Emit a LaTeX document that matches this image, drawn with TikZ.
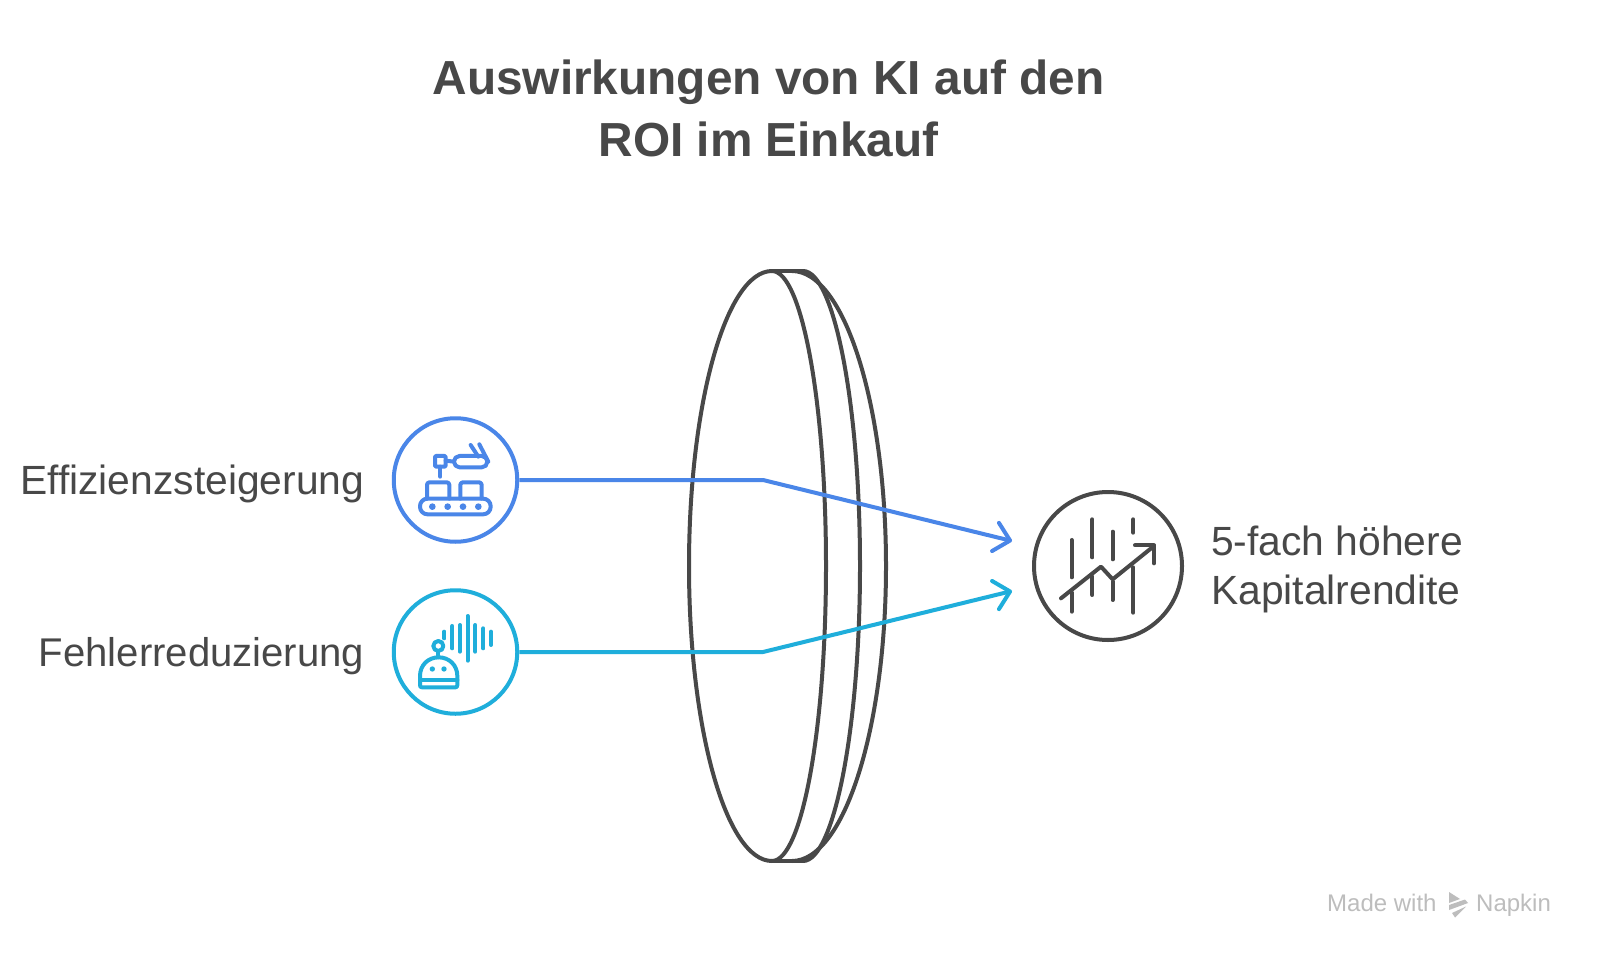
\documentclass[tikz,border=0pt]{standalone}
\usepackage{fontspec}
\setmainfont{Liberation Sans}
\usetikzlibrary{arrows.meta}
\definecolor{ink}{HTML}{484848}
\definecolor{blueA}{HTML}{4A86E8}
\definecolor{cyanA}{HTML}{1FAEDB}
\definecolor{wm}{HTML}{BDBDBD}
\tikzset{
  ring/.style={circle,draw=#1,line width=4pt,inner sep=0pt,fill=white},
  lensline/.style={draw=ink,line width=4pt,line join=round},
  flow/.style={draw=#1,line width=4pt,line join=round,-{Straight Barb[length=15pt,width=29pt,round]}},
  icon/.style={draw=#1,line width=4pt,line cap=round,line join=round},
  label/.style={text=ink,font=\fontsize{40.8}{47}\selectfont,inner sep=0pt},
  labelB/.style={text=ink,font=\fontsize{40.1}{47}\selectfont,inner sep=0pt},
  ttl/.style={text=ink,font=\fontsize{47.8}{62}\selectfont\bfseries,inner sep=0pt,align=center},
  wmtext/.style={text=wm,font=\fontsize{24}{26}\selectfont,inner sep=0pt}
}
\begin{document}
\begin{tikzpicture}[x=1pt,y=-1pt]
\useasboundingbox (0,0) rectangle (1600,960);
\fill[white] (0,0) rectangle (1600,960);
% title
\node[ttl,anchor=center] (title) at (768.5,108.5) {Auswirkungen von KI auf den\\ROI im Einkauf};
% lens
\draw[lensline] (772,271) -- (803,271);
\draw[lensline] (772,271) .. controls (726,271) and (689,404) .. (689,566) .. controls (689,728) and (726,861) .. (772,861);
\draw[lensline] (772,271) .. controls (802,271) and (826,404) .. (826,566) .. controls (826,728) and (802,861) .. (772,861);
\draw[lensline] (803,271) .. controls (834,271) and (860,404) .. (860,566) .. controls (860,728) and (834,861) .. (803,861);
\draw[lensline] (792,271) .. controls (844,271) and (886,404) .. (886,566) .. controls (886,728) and (844,861) .. (792,861);
\draw[lensline] (772,861) -- (803,861);
% nodes
\node[ring=blueA,minimum size=123.5pt] (c1) at (455.5,480) {};
\node[ring=cyanA,minimum size=123.5pt] (c2) at (455.5,652) {};
\node[ring=ink,minimum size=148pt] (c3) at (1108,566) {};
\coordinate (e1) at (763,480);
\coordinate (e2) at (763,652);
\coordinate (t1) at (1012,541);
\coordinate (t2) at (1012,591);
\draw[flow=blueA] (c1.east) -- (e1) -- (t1);
\draw[flow=cyanA] (c2.east) -- (e2) -- (t2);
% labels
\node[label,anchor=base east] (l1) at (364.5,494) {Effizienzsteigerung};
\node[labelB,anchor=base east] (l2) at (364.5,666) {Fehlerreduzierung};
\node[label,anchor=base west] (l3) at (1211,555) {5-fach höhere};
\node[label,anchor=base west] (l4) at (1211,604) {Kapitalrendite};
% icon 1
\begin{scope}[shift={(380,400)},x=0.3333pt,y=-0.3333pt]
\draw[icon=blueA,rounded corners=7.5pt] (120,296) rectangle (332,343);
\foreach \px in {157,203,249,295}{\fill[blueA] (\px,320) circle[radius=10];}
\draw[icon=blueA,rounded corners=2.5pt] (141,296) -- (141,247) -- (208,247) -- (208,296);
\draw[icon=blueA,rounded corners=2.5pt] (241,296) -- (241,247) -- (305,247) -- (305,296);
\draw[icon=blueA,rounded corners=1pt] (165,168) rectangle (197,200);
\draw[icon=blueA] (181,200) -- (181,230);
\draw[icon=blueA] (197,182) -- (222,185);
\draw[icon=blueA,rounded corners=5.5pt] (222,168) -- (222,202) -- (322,202) -- (322,168) -- cycle;
\draw[icon=blueA] (272,135) -- (295,170);
\draw[icon=blueA] (298,133) -- (325,185);
\end{scope}
% icon 2
\begin{scope}[shift={(380,570)},x=0.3333pt,y=-0.3333pt]
\draw[icon=cyanA] (193,185) -- (193,205);
\draw[icon=cyanA] (217,168) -- (217,235);
\draw[icon=cyanA] (240,165) -- (240,245);
\draw[icon=cyanA] (263,138) -- (263,272);
\draw[icon=cyanA] (286,165) -- (286,245);
\draw[icon=cyanA] (310,175) -- (310,235);
\draw[icon=cyanA] (333,185) -- (333,225);
\draw[icon=cyanA] (175,228) circle[radius=15];
\draw[icon=cyanA] (175,243) -- (175,262);
\draw[icon=cyanA] (120,345) -- (120,318) .. controls (120,285) and (145,262) .. (176,262) .. controls (207,262) and (232,285) .. (232,318) -- (232,345) .. controls (232,350) and (230,352) .. (226,352) -- (126,352) .. controls (122,352) and (120,350) .. (120,345) -- cycle;
\draw[icon=cyanA] (120,330) -- (232,330);
\fill[cyanA] (157,297) circle[radius=8];
\fill[cyanA] (192,297) circle[radius=8];
\end{scope}
% icon 3
\begin{scope}[shift={(970,470)},x=0.3333pt,y=-0.3333pt]
\draw[icon=ink] (305,210) -- (305,322);
\draw[icon=ink] (305,368) -- (305,425);
\draw[icon=ink] (367,148) -- (367,262);
\draw[icon=ink] (367,320) -- (367,375);
\draw[icon=ink] (428,185) -- (428,268);
\draw[icon=ink] (428,335) -- (428,390);
\draw[icon=ink] (490,148) -- (490,188);
\draw[icon=ink] (490,292) -- (490,428);
\draw[icon=ink] (273,385) -- (393,290) -- (428,328) -- (552,228);
\draw[icon=ink] (495,226) -- (552,226) -- (552,280);
\end{scope}
% watermark
\node[wmtext,anchor=base west] (w1) at (1327,911) {Made with};
\node[wmtext,anchor=base west] (w2) at (1476,911) {Napkin};
\fill[wm] (1449,892) -- (1460,899) -- (1449,903) -- cycle;
\fill[wm] (1449,905) -- (1465,899.5) -- (1468,903) -- (1449,910) -- cycle;
\fill[wm] (1452,913) -- (1466,906.5) -- (1455,917.5) -- cycle;
\end{tikzpicture}
\end{document}
